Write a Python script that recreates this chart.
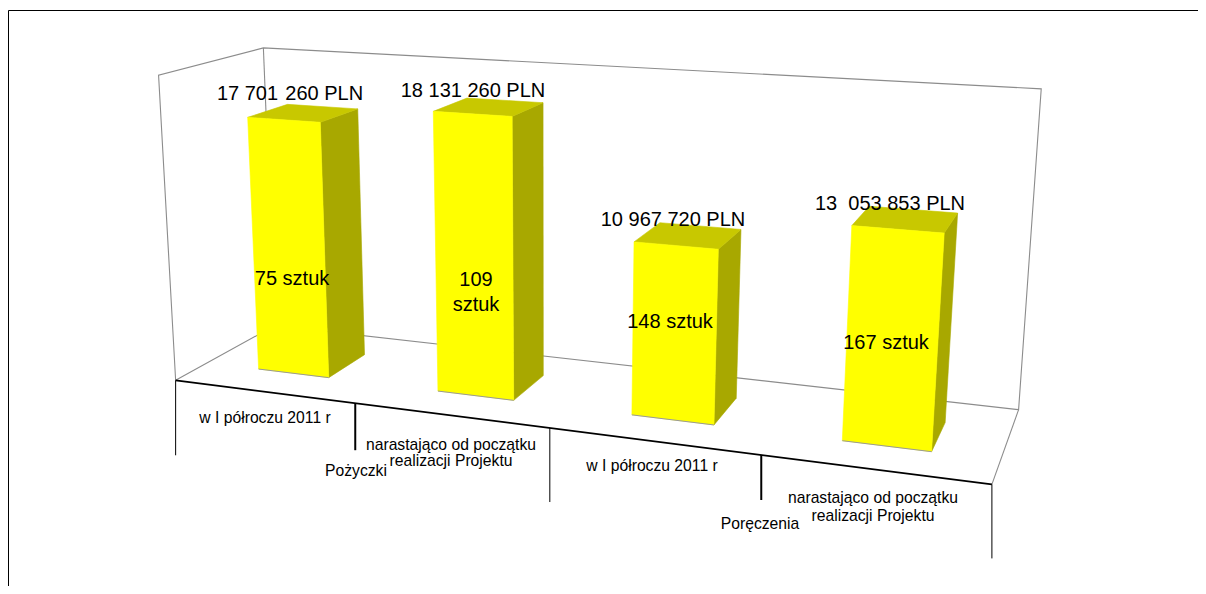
import numpy as np, pandas as pd, altair as alt

# --- chart content ---
categories = ["w I półroczu 2011 r", "narastająco od początku|realizacji Projektu",
              "w I półroczu 2011 r", "narastająco od początku|realizacji Projektu"]
groups = ["Pożyczki", "Poręczenia"]
value_labels = ["17 701\u200a 260 PLN", "18 131 260 PLN", "10 967 720 PLN", "13\u00a0 053 853 PLN"]
count_labels = ["75 sztuk", "109|sztuk", "148 sztuk", "167 sztuk"]
bar_heights = [16.92, 18.08, 10.95, 13.03]   # million PLN, as drawn
axis_max = 20.0

# --- perspective of the 3D box: (category, value share, depth) -> page pixel ---
BOX = [((0,0,0),(177.3,380)),((4,0,0),(991.7,485)),((4,0,1),(1019,409)),((0,0,1),(273,326)),
       ((0,1,0),(157,75)),((0,1,1),(265,48)),((4,1,1),(1041,89))]
A, b = [], []
for (X,Y,Z),(u,v) in BOX:
    A.append([X,Y,Z,1,0,0,0,0,-u*X,-u*Y,-u*Z]); b.append(u)
    A.append([0,0,0,0,X,Y,Z,1,-v*X,-v*Y,-v*Z]); b.append(v)
P = np.append(np.linalg.lstsq(np.array(A), np.array(b), rcond=None)[0], 1).reshape(3,4)
def proj(X, Y, Z):
    q = P @ np.array([X, Y, Z, 1.0])
    return float(q[0]/q[2]), float(q[1]/q[2])

xs = alt.Scale(domain=[8,1198], range=[0,1190], nice=False, zero=False)
ys = alt.Scale(domain=[8,586], range=[0,578], nice=False, zero=False)
X_ = alt.X("x:Q", scale=xs, axis=None)
Y_ = alt.Y("y:Q", scale=ys, axis=None)

def poly_rows(pid, pts):
    return [dict(id=pid, o=i, x=p[0], y=p[1]) for i, p in enumerate(pts)]

front, side, top, shadow = [], [], [], []
x0, x1, z0, z1 = 0.3, 0.7, 0.3, 0.7
for i, h in enumerate(bar_heights):
    Yt = h/axis_max
    a = [proj(i+x0,0,z0), proj(i+x1,0,z0), proj(i+x1,Yt,z0), proj(i+x0,Yt,z0)]
    front += poly_rows(i, a+[a[0]])
    s = [proj(i+x1,0,z0), proj(i+x1,0,z1), proj(i+x1,Yt,z1), proj(i+x1,Yt,z0)]
    side += poly_rows(i, s+[s[0]])
    t = [proj(i+x0,Yt,z0), proj(i+x1,Yt,z0), proj(i+x1,Yt,z1), proj(i+x0,Yt,z1)]
    top += poly_rows(i, t+[t[0]])
    shadow += poly_rows(i, [a[0], a[1]])

def face(rows, color):
    return alt.Chart(pd.DataFrame(rows)).mark_line(fill=color, stroke=color, strokeWidth=0.6, interpolate="linear").encode(
        x=X_, y=Y_, order="o:Q", detail="id:N")

def lines(rows, color, width):
    return alt.Chart(pd.DataFrame(rows)).mark_line(color=color, strokeWidth=width).encode(
        x=X_, y=Y_, order="o:Q", detail="id:N")

wall = []
wall += poly_rows("w1", [proj(0,0,0), proj(0,1,0), proj(0,1,1), proj(4,1,1), proj(4,0,1), proj(0,0,1), proj(0,0,0)])
wall += poly_rows("w2", [proj(0,1,1), proj(0,0,1)])
wall += poly_rows("w3", [proj(4,0,1), proj(4,0,0)])

edge = poly_rows("e", [proj(0,0,0), proj(4,0,0)])
thin_ticks, thick_ticks = [], []
for k, ln in [(0,75),(2,74),(4,74)]:
    px, py = proj(k,0,0)
    thin_ticks += poly_rows(k, [(px,py),(px,py+ln)])
for k, ln in [(1,47),(3,45)]:
    px, py = proj(k,0,0)
    thick_ticks += poly_rows(k, [(px,py),(px,py+ln)])

frame = poly_rows("f", [(8.5,586),(8.5,10.5),(1198,10.5)])

big, small = [], []
value_pos = [(290,94),(473,91),(673,220),(890,204)]
for s, (x,y) in zip(value_labels, value_pos):
    big.append(dict(x=x, y=y, t=s))
count_pos = [[(292,279)],[(476,280),(476,305)],[(670,322)],[(886,343)]]
for s, pos in zip(count_labels, count_pos):
    for part, (x,y) in zip(s.split("|"), pos):
        big.append(dict(x=x, y=y, t=part))
cat_pos = [[(265,418)],[(451,445),(451,461)],[(652,466)],[(873,498),(873,516)]]
for s, pos in zip(categories, cat_pos):
    for part, (x,y) in zip(s.split("|"), pos):
        small.append(dict(x=x, y=y, t=part))
for s, (x,y) in zip(groups, [(356,471),(760,524)]):
    small.append(dict(x=x, y=y, t=s))

def texts(rows, size):
    return alt.Chart(pd.DataFrame(rows)).mark_text(font="Liberation Sans", fontSize=size, color="#000000",
        align="center", baseline="middle").encode(x=X_, y=Y_, text="t:N")

chart = alt.layer(
    lines(frame, "#000000", 1),
    lines(wall, "#8c8c8c", 1.1),
    face(side, "#A8A800"),
    face(top, "#C8C800"),
    face(front, "#FFFF00"),
    lines(shadow, "#999999", 1),
    lines(edge, "#000000", 1.8),
    lines(thin_ticks, "#000000", 1),
    lines(thick_ticks, "#000000", 2),
    texts(big, 20),
    texts(small, 15.7),
).properties(width=1190, height=578, padding=0, background="#ffffff",
    autosize=alt.AutoSizeParams(type="none")).configure_view(stroke=None)

chart.save("out.html", embed_options={"renderer": "svg", "actions": False})
